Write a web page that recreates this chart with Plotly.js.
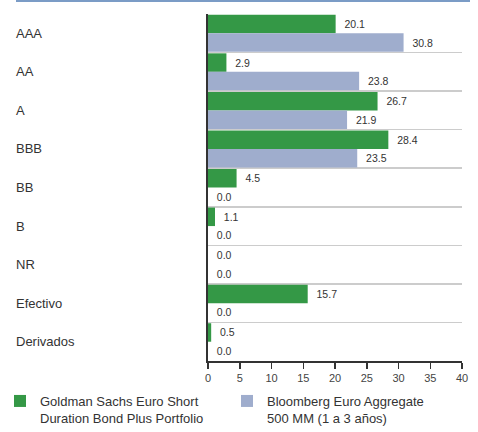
<!DOCTYPE html>
<html>
<head>
<meta charset="utf-8">
<script src="https://cdn.plot.ly/plotly-3.0.1.min.js"></script>
<style>
html,body{margin:0;padding:0;background:#fff;}
#chart{width:478px;height:432px;}
</style>
</head>
<body>
<div id="chart"></div>
<script>
var categories = ["AAA", "AA", "A", "BBB", "BB", "B", "NR", "Efectivo", "Derivados"];
var portfolioValues = [20.1, 2.9, 26.7, 28.4, 4.5, 1.1, 0.0, 15.7, 0.5];
var benchmarkValues = [30.8, 23.8, 21.9, 23.5, 0.0, 0.0, 0.0, 0.0, 0.0];
var portfolioName = "Goldman Sachs Euro Short<br>Duration Bond Plus Portfolio";
var benchmarkName = "Bloomberg Euro Aggregate<br>500 MM (1 a 3 años)";
var xTickValues = [0, 5, 10, 15, 20, 25, 30, 35, 40];

var FONT = "'Liberation Sans', Arial, sans-serif";
var W = 478, H = 432;
var L = 208, R = 16, T = 14, B = 71;
var plotW = W - L - R, plotH = H - T - B;
function px2x(p){ return (p - L) / plotW; }
function py2y(p){ return (H - B - p) / plotH; }

var labelTemplate = "\u00a0\u00a0%{x:.1f}";

var traces = [
  {
    type: "bar", orientation: "h",
    name: portfolioName, legend: "legend",
    y: categories, x: portfolioValues,
    marker: {color: "#349846"},
    text: portfolioValues, texttemplate: labelTemplate,
    textposition: "outside", cliponaxis: false,
    textfont: {family: FONT, size: 10.5, color: "#333"},
    hoverinfo: "skip"
  },
  {
    type: "bar", orientation: "h",
    name: benchmarkName, legend: "legend2",
    y: categories, x: benchmarkValues,
    marker: {color: "#9fadcd"},
    text: benchmarkValues, texttemplate: labelTemplate,
    textposition: "outside", cliponaxis: false,
    textfont: {family: FONT, size: 10.5, color: "#333"},
    hoverinfo: "skip"
  }
];

var annotations = categories.map(function(c){
  return {
    xref: "paper", yref: "y", x: px2x(16), y: c,
    text: c, showarrow: false, xanchor: "left", yanchor: "middle",
    xshift: -2,
    font: {family: FONT, size: 13, color: "#333"}
  };
});

function legendAt(xpx){
  return {
    orientation: "v", x: px2x(xpx), xanchor: "left",
    y: py2y(386), yanchor: "top", valign: "top",
    bgcolor: "rgba(0,0,0,0)",
    font: {family: FONT, size: 13, color: "#333"},
    itemclick: false, itemdoubleclick: false
  };
}

var layout = {
  width: W, height: H,
  margin: {l: L, r: R, t: T, b: B, pad: 0, autoexpand: false},
  paper_bgcolor: "#fff", plot_bgcolor: "#fff",
  barmode: "group", bargap: 0.04, bargroupgap: 0,
  font: {family: FONT, color: "#333"},
  showlegend: true,
  legend: legendAt(0),
  legend2: legendAt(227),
  xaxis: {
    range: [0, 40], tickvals: xTickValues, ticktext: xTickValues.map(String),
    showgrid: false, zeroline: false,
    showline: true, linecolor: "#333", linewidth: 1.5,
    ticks: "outside", ticklen: 6, tickwidth: 1.5, tickcolor: "#333",
    tickfont: {family: FONT, size: 11, color: "#444"},
    fixedrange: true
  },
  yaxis: {
    type: "category", categoryorder: "array", categoryarray: categories,
    autorange: "reversed",
    showticklabels: false, ticks: "", tickson: "boundaries",
    showgrid: true, gridcolor: "#cccccc", gridwidth: 1.5,
    showline: true, linecolor: "#333", linewidth: 2,
    zeroline: false, fixedrange: true
  },
  shapes: [
    {type: "line", xref: "paper", yref: "paper",
     x0: px2x(16), x1: px2x(470), y0: py2y(1), y1: py2y(1),
     line: {color: "#7b9cc6", width: 2}}
  ],
  annotations: annotations
};

Plotly.newPlot("chart", traces, layout, {displayModeBar: false, staticPlot: true});
</script>
</body>
</html>
